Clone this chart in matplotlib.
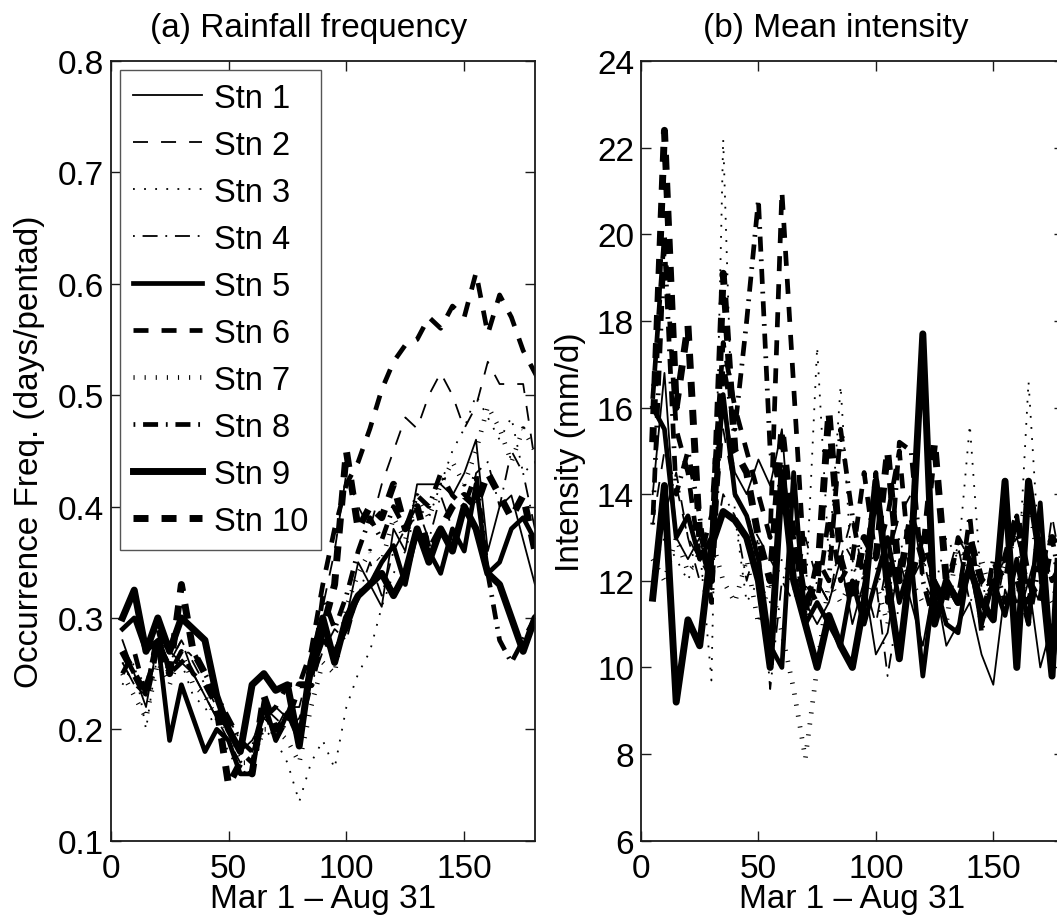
import matplotlib
matplotlib.use("Agg")
import matplotlib.pyplot as plt
import numpy as np

plt.rcParams["font.family"] = ["Liberation Sans", "DejaVu Sans"]
plt.rcParams["lines.scale_dashes"] = False

# pentad end day counted from Mar 1
pentad_day = np.arange(5, 186, 5)
station_names = ["Stn 1", "Stn 2", "Stn 3", "Stn 4", "Stn 5",
                 "Stn 6", "Stn 7", "Stn 8", "Stn 9", "Stn 10"]

# (a) rainfall occurrence frequency, days/pentad
freq_stn1 = [0.28, 0.25, 0.22, 0.28, 0.27, 0.26, 0.25, 0.23, 0.21, 0.20,
             0.18, 0.19, 0.21, 0.22, 0.21, 0.20, 0.25, 0.29, 0.27, 0.30,
             0.35, 0.33, 0.31, 0.38, 0.36, 0.42, 0.42, 0.42, 0.41, 0.43,
             0.46, 0.36, 0.40, 0.41, 0.37, 0.33, 0.32]
freq_stn2 = [0.26, 0.24, 0.23, 0.27, 0.26, 0.28, 0.25, 0.23, 0.21, 0.19,
             0.17, 0.18, 0.21, 0.20, 0.22, 0.22, 0.26, 0.31, 0.36, 0.43,
             0.40, 0.38, 0.42, 0.45, 0.48, 0.47, 0.50, 0.52, 0.50, 0.47,
             0.49, 0.53, 0.51, 0.51, 0.51, 0.44, 0.42]
freq_stn3 = [0.24, 0.26, 0.20, 0.27, 0.25, 0.26, 0.23, 0.22, 0.20, 0.18,
             0.16, 0.165, 0.20, 0.19, 0.17, 0.135, 0.17, 0.19, 0.165, 0.22,
             0.25, 0.27, 0.31, 0.34, 0.36, 0.40, 0.39, 0.42, 0.45, 0.47,
             0.50, 0.48, 0.46, 0.48, 0.43, 0.44, 0.42]
freq_stn4 = [0.26, 0.24, 0.23, 0.28, 0.26, 0.28, 0.26, 0.24, 0.22, 0.21,
             0.19, 0.18, 0.22, 0.21, 0.20, 0.21, 0.24, 0.27, 0.29, 0.28,
             0.32, 0.35, 0.32, 0.36, 0.38, 0.40, 0.37, 0.41, 0.38, 0.36,
             0.43, 0.44, 0.40, 0.45, 0.43, 0.38, 0.36]
freq_stn5 = [0.29, 0.30, 0.27, 0.28, 0.19, 0.24, 0.21, 0.18, 0.20, 0.19,
             0.16, 0.16, 0.225, 0.19, 0.215, 0.19, 0.25, 0.28, 0.27, 0.29,
             0.32, 0.33, 0.35, 0.365, 0.33, 0.38, 0.36, 0.34, 0.38, 0.36,
             0.42, 0.34, 0.35, 0.38, 0.39, 0.37, 0.36]
freq_stn6 = [0.25, 0.27, 0.23, 0.29, 0.25, 0.27, 0.25, 0.24, 0.22, 0.20,
             0.18, 0.17, 0.21, 0.22, 0.24, 0.24, 0.27, 0.33, 0.38, 0.42,
             0.44, 0.47, 0.505, 0.53, 0.545, 0.55, 0.57, 0.56, 0.58, 0.57,
             0.61, 0.555, 0.59, 0.57, 0.54, 0.52, 0.50]
freq_stn7 = [0.25, 0.23, 0.21, 0.26, 0.24, 0.27, 0.24, 0.23, 0.21, 0.20,
             0.17, 0.17, 0.20, 0.20, 0.19, 0.17, 0.22, 0.26, 0.25, 0.31,
             0.34, 0.36, 0.35, 0.39, 0.37, 0.41, 0.39, 0.42, 0.44, 0.42,
             0.45, 0.49, 0.47, 0.44, 0.47, 0.45, 0.43]
freq_stn8 = [0.27, 0.25, 0.24, 0.27, 0.25, 0.26, 0.27, 0.25, 0.23, 0.21,
             0.19, 0.18, 0.22, 0.19, 0.21, 0.20, 0.24, 0.32, 0.29, 0.32,
             0.36, 0.39, 0.37, 0.40, 0.38, 0.41, 0.40, 0.43, 0.41, 0.40,
             0.43, 0.34, 0.28, 0.26, 0.28, 0.30, 0.31]
freq_stn9 = [0.30, 0.325, 0.27, 0.30, 0.27, 0.30, 0.29, 0.28, 0.23, 0.20,
             0.18, 0.24, 0.25, 0.235, 0.24, 0.185, 0.26, 0.30, 0.26, 0.30,
             0.32, 0.33, 0.34, 0.32, 0.34, 0.38, 0.35, 0.38, 0.36, 0.40,
             0.38, 0.34, 0.33, 0.30, 0.27, 0.30, 0.31]
freq_stn10 = [0.27, 0.25, 0.23, 0.28, 0.25, 0.33, 0.27, 0.25, 0.22, 0.15,
              0.17, 0.16, 0.23, 0.20, 0.21, 0.24, 0.24, 0.29, 0.33, 0.45,
              0.38, 0.40, 0.39, 0.42, 0.38, 0.40, 0.36, 0.38, 0.40, 0.41,
              0.40, 0.43, 0.41, 0.39, 0.41, 0.36, 0.34]

# (b) mean intensity, mm/d
int_stn1 = [14.0, 16.8, 13.0, 12.5, 13.0, 11.8, 16.3, 14.5, 14.0, 14.8,
            14.2, 15.5, 12.0, 11.5, 11.0, 11.5, 12.5, 11.0, 12.0, 10.3,
            10.8, 12.5, 11.5, 10.5, 12.0, 10.5, 11.0, 11.5, 10.3, 9.6,
            11.8, 11.0, 12.0, 10.0, 11.0, 10.6, 11.5]
int_stn2 = [13.3, 15.0, 14.2, 13.0, 12.5, 12.0, 15.5, 14.0, 13.5, 13.0,
            12.5, 12.0, 11.5, 13.0, 12.0, 11.5, 12.5, 13.5, 12.0, 11.0,
            12.5, 13.5, 14.0, 12.0, 11.5, 12.0, 13.0, 12.5, 11.5, 12.0,
            12.5, 13.0, 12.0, 11.5, 13.5, 12.0, 12.8]
int_stn3 = [12.2, 13.0, 12.5, 12.0, 12.8, 9.7, 22.2, 13.5, 11.5, 12.0,
            11.5, 12.5, 11.8, 11.5, 17.4, 12.5, 16.5, 12.0, 13.0, 12.3,
            11.5, 13.0, 12.0, 12.5, 11.8, 13.0, 12.5, 15.6, 11.8, 12.0,
            12.5, 11.5, 16.6, 12.2, 12.5, 12.0, 13.0]
int_stn4 = [12.0, 13.5, 14.5, 13.0, 12.0, 12.5, 14.0, 13.5, 12.0, 13.0,
            9.5, 12.0, 12.5, 11.0, 12.0, 11.5, 13.0, 12.5, 11.0, 12.0,
            9.8, 11.5, 12.0, 12.5, 11.5, 12.0, 12.8, 11.5, 12.0, 11.0,
            12.5, 11.5, 12.0, 13.0, 12.0, 11.5, 12.5]
int_stn5 = [16.0, 15.5, 13.0, 13.5, 12.5, 13.0, 16.3, 14.0, 13.5, 12.5,
            10.5, 10.0, 14.5, 11.0, 11.5, 11.0, 10.5, 12.0, 11.0, 12.0,
            13.0, 11.5, 12.5, 9.8, 12.0, 11.0, 10.8, 12.5, 11.0, 12.0,
            11.2, 12.5, 11.0, 13.8, 10.0, 12.0, 13.0]
int_stn6 = [16.2, 20.0, 15.5, 14.5, 12.5, 13.5, 17.5, 16.0, 15.0, 14.0,
            13.0, 21.0, 16.5, 12.0, 11.5, 13.5, 12.0, 12.5, 14.5, 12.5,
            13.5, 15.0, 12.0, 13.0, 12.0, 11.5, 13.0, 12.5, 11.0, 12.5,
            12.0, 13.5, 11.5, 13.0, 12.0, 12.5, 13.5]
int_stn7 = [12.5, 12.0, 13.0, 12.2, 12.5, 13.0, 12.0, 11.5, 12.5, 11.0,
            12.0, 10.8, 9.5, 7.9, 10.0, 12.0, 11.5, 12.0, 11.5, 12.0,
            11.0, 12.5, 12.0, 11.5, 12.0, 11.0, 13.0, 12.0, 12.5, 11.5,
            12.5, 13.0, 14.0, 12.0, 11.5, 12.5, 12.0]
int_stn8 = [13.3, 19.8, 14.0, 15.0, 13.5, 11.5, 17.0, 15.5, 18.0, 20.8,
            15.0, 14.0, 13.0, 11.2, 12.5, 12.0, 15.5, 13.5, 12.0, 14.5,
            11.5, 15.2, 15.0, 12.0, 11.0, 12.0, 11.5, 13.5, 10.8, 12.5,
            11.5, 12.0, 11.0, 12.5, 13.0, 11.5, 12.5]
int_stn9 = [11.6, 14.2, 9.2, 11.1, 10.5, 12.8, 13.6, 13.4, 13.0, 12.0,
            10.0, 14.5, 12.0, 11.0, 10.0, 11.2, 10.5, 10.0, 11.5, 14.3,
            12.0, 10.2, 12.5, 17.7, 11.0, 12.0, 11.5, 12.3, 11.5, 11.1,
            14.3, 10.0, 14.3, 12.5, 9.8, 15.0, 13.0]
int_stn10 = [15.2, 22.4, 16.0, 17.9, 13.0, 12.0, 19.1, 15.0, 14.5, 13.0,
             12.0, 15.5, 13.0, 11.5, 12.0, 15.9, 12.5, 11.5, 13.0, 12.5,
             15.0, 12.0, 13.5, 12.5, 15.2, 12.0, 11.5, 13.0, 12.0, 11.8,
             12.5, 13.5, 12.0, 11.5, 13.0, 12.5, 14.0]

freq_all = [freq_stn1, freq_stn2, freq_stn3, freq_stn4, freq_stn5,
            freq_stn6, freq_stn7, freq_stn8, freq_stn9, freq_stn10]
int_all = [int_stn1, int_stn2, int_stn3, int_stn4, int_stn5,
           int_stn6, int_stn7, int_stn8, int_stn9, int_stn10]

# matlab-ish line styles, dashes in points (not scaled by width)
thin, mid, thick = 1.3, 3.4, 5.0
dash = (0, (10.8, 9.4))
dot_thin = (0, (1.3, 6.7))
dot_mid = (0, (0.8, 7.2))
dashdot = (0, (1.3, 5.6, 10.8, 5.6))
styles = [("-", thin), (dash, thin), (dot_thin, thin), (dashdot, thin),
          ("-", mid), (dash, mid), (dot_mid, mid), (dashdot, mid),
          ("-", thick), (dash, thick)]

FS = 24


def style_axes(ax):
    for side in ["top", "bottom", "left", "right"]:
        ax.spines[side].set_linewidth(1.3)
        ax.spines[side].set_color("#1a1a1a")
    ax.tick_params(direction="in", top=True, right=True, length=7, width=1.0,
                   labelsize=FS, colors="#1a1a1a", labelcolor="black")
    ax.tick_params(axis="x", pad=9)
    ax.tick_params(axis="y", pad=5)
    ax.set_xlim(0, 180)
    ax.set_xticks([0, 50, 100, 150])


fig = plt.figure(figsize=(10.57, 9.2), dpi=100)
ax1 = fig.add_axes([0.1047, 0.0851, 0.4014, 0.8475])
ax2 = fig.add_axes([0.6064, 0.0851, 0.4000, 0.8475])

for series, name, (ls, lw) in zip(freq_all, station_names, styles):
    ax1.plot(pentad_day, series, color="black", linestyle=ls, linewidth=lw, label=name)
for series, name, (ls, lw) in zip(int_all, station_names, styles):
    ax2.plot(pentad_day, series, color="black", linestyle=ls, linewidth=lw, label=name)

style_axes(ax1)
ax1.set_ylim(0.1, 0.8)
yt1 = [0.1, 0.2, 0.3, 0.4, 0.5, 0.6, 0.7, 0.8]
ax1.set_yticks(yt1)
ax1.set_yticklabels([f"{v:.1f}" for v in yt1])
ax1.set_xlabel("Mar 1 – Aug 31", fontsize=FS, labelpad=-1)
ax1.set_ylabel("Occurrence Freq. (days/pentad)", fontsize=FS, labelpad=9)
ax1.set_title("(a) Rainfall frequency", fontsize=FS, pad=18)
ax1.title.set_x(0.467)

style_axes(ax2)
ax2.set_ylim(6, 24)
ax2.set_yticks([6, 8, 10, 12, 14, 16, 18, 20, 22, 24])
ax2.set_xlabel("Mar 1 – Aug 31", fontsize=FS, labelpad=-1)
ax2.set_ylabel("Intensity (mm/d)", fontsize=FS, labelpad=8)
ax2.set_title("(b) Mean intensity", fontsize=FS, pad=18)
ax2.title.set_x(0.46)

leg = ax1.legend(loc="upper left", bbox_to_anchor=(0.022, 0.989), borderaxespad=0,
                 fontsize=23.5, handlelength=2.1, handletextpad=0.37,
                 labelspacing=0.49, borderpad=0.4, frameon=True, fancybox=False,
                 edgecolor="#555555", framealpha=1)
leg.get_frame().set_linewidth(1.0)

fig.savefig("out.png", dpi=100, facecolor="white")
